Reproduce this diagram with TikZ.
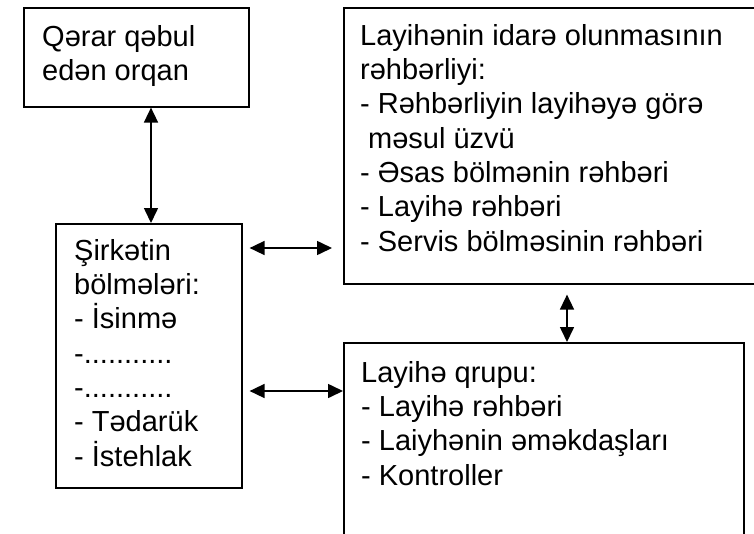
\documentclass[tikz,border=0pt]{standalone}
\usepackage{fontspec}
\setmainfont{Liberation Sans}
\usetikzlibrary{arrows.meta,calc}
\begin{document}
\begin{tikzpicture}[x=1pt,y=-1pt,
  box/.style={draw, line width=1.6pt, inner sep=0pt, anchor=north west},
  txt/.style={anchor=north west, inner sep=0pt, align=left,
              font=\fontsize{29}{34.3}\selectfont},
  link/.style={line width=1.6pt,
               {Triangle[length=15pt,width=14pt]}-{Triangle[length=15pt,width=14pt]}}]
\clip (0,0) rectangle (754,533);
\fill[white] (0,0) rectangle (754,533);

% boxes
\node[box, minimum width=225pt, minimum height=99pt]  (Q) at (23,7) {};
\node[box, minimum width=186pt, minimum height=264pt] (S) at (55,223) {};
\node[box, minimum width=430pt, minimum height=276pt] (L) at (343,7) {};
\node[box, minimum width=400pt, minimum height=230pt] (G) at (343,342) {};

% box texts
\node[txt] (Qt) at (42,18) {\rule{0pt}{28pt}Qərar qəbul\\edən orqan};
\node[txt] (St) at (74,232) {\rule{0pt}{28pt}Şirkətin\\bölmələri:\\- İsinmə\\-...........\\-...........\\- Tədarük\\- İstehlak};
\node[txt] (Lt) at (360,17) {\rule{0pt}{28pt}Layihənin idarə olunmasının\\rəhbərliyi:\\- Rəhbərliyin layihəyə görə\\\hspace*{8pt}məsul üzvü\\- Əsas bölmənin rəhbəri\\- Layihə rəhbəri\\- Servis bölməsinin rəhbəri};
\node[txt] (Gt) at (361,354) {\rule{0pt}{28pt}Layihə qrupu:\\- Layihə rəhbəri\\- Laiyhənin əməkdaşları\\- Kontroller};

% connector positions
\coordinate (v1) at (151,0);
\coordinate (v2) at (567,0);
\coordinate (h1) at (0,248);
\coordinate (h2) at (0,391);

% connectors
\draw[link] (Q.south -| v1) -- (S.north -| v1);
\draw[link, shorten <=7pt, shorten >=11pt] (S.east |- h1) -- (L.west |- h1);
\draw[link, shorten <=7pt] (S.east |- h2) -- (G.west |- h2);
\draw[link, shorten <=10pt] (L.south -| v2) -- (G.north -| v2);
\end{tikzpicture}
\end{document}
